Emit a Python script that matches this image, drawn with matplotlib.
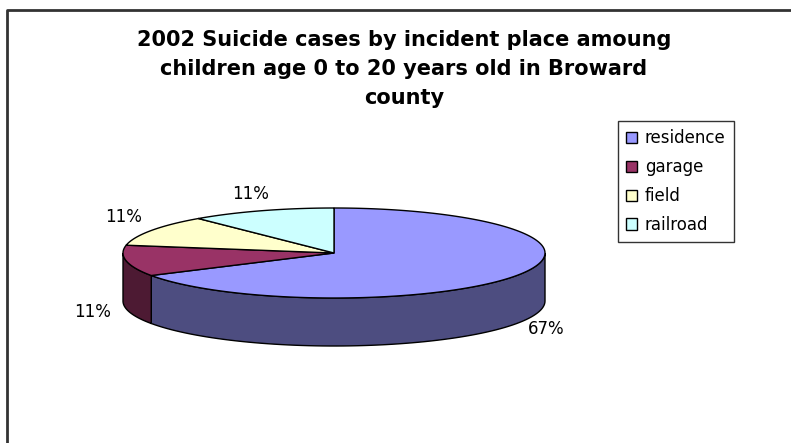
import numpy as np
import matplotlib
matplotlib.use("Agg")
import matplotlib.pyplot as plt
from matplotlib.patches import Polygon, Patch

# ---- data ----
categories = ["residence", "garage", "field", "railroad"]
counts = [6, 1, 1, 1]
pct_labels = ["67%", "11%", "11%", "11%"]
top_colors = ["#9999FF", "#993366", "#FFFFCC", "#CCFFFF"]
side_colors = ["#4D4D80", "#4D1A33", "#808066", "#668080"]
title = "2002 Suicide cases by incident place amoung\nchildren age 0 to 20 years old in Broward\ncounty"

# ---- layout (pixel space) ----
W, H = 791, 443
fig = plt.figure(figsize=(W / 100, H / 100), dpi=100)
ax = fig.add_axes([0, 0, 1, 1])
ax.set_xlim(0, W)
ax.set_ylim(H, 0)
ax.axis("off")

# frame (only top and left visible)
ax.plot([7, 7, W + 5], [H + 5, 10, 10], color="#333333", lw=2,
        solid_capstyle="butt", clip_on=False)

cx, cy, a, b, depth = 334, 253, 211, 45, 48

def pt(theta_deg, r=1.0, dy=0.0):
    t = np.radians(theta_deg)
    return cx + r * a * np.cos(t), cy - r * b * np.sin(t) + dy

total = float(sum(counts))
start = 90.0
angles = []
for c in counts:
    sweep = 360.0 * c / total
    angles.append((start - sweep, start))  # clockwise
    start -= sweep

# side walls (front half: 180..360 degrees)
for (t1, t2), sc in zip(angles, side_colors):
    for shift in (-360, 0, 360):
        lo, hi = max(t1 + shift, 180), min(t2 + shift, 360)
        if hi > lo:
            ts = np.linspace(lo, hi, 80)
            top = [pt(t) for t in ts]
            bot = [pt(t, dy=depth) for t in ts[::-1]]
            ax.add_patch(Polygon(top + bot, closed=True, facecolor=sc,
                                 edgecolor="black", lw=1.0, zorder=2))

# top faces
for (t1, t2), fc in zip(angles, top_colors):
    ts = np.linspace(t1, t2, 200)
    verts = [(cx, cy)] + [pt(t) for t in ts]
    ax.add_patch(Polygon(verts, closed=True, facecolor=fc,
                         edgecolor="black", lw=1.0, zorder=3))

# percentage labels
for (t1, t2), lab in zip(angles, pct_labels):
    mid = (t1 + t2) / 2.0
    front = np.sin(np.radians(mid)) < 0
    r = 1.16 if front else 1.15
    x, y = pt(mid, r=r, dy=(depth + 2 if front else -10))
    ax.text(x, y, lab, ha="center", va="center", fontsize=12,
            color="black", zorder=5)

# title
ax.text(404, 69, title, ha="center", va="center", fontsize=15,
        fontweight="bold", linespacing=1.55, color="black")

# legend
handles = [Patch(facecolor=c, edgecolor="black", lw=1.0) for c in top_colors]
leg = fig.legend(handles, categories, loc="upper left",
                 bbox_to_anchor=(618 / W, 1 - 121 / H),
                 fontsize=12, frameon=True, fancybox=False,
                 handlelength=0.65, handleheight=0.65, handletextpad=0.45,
                 labelspacing=0.65, borderpad=0.5, borderaxespad=0)
leg.get_frame().set_edgecolor("black")
leg.get_frame().set_linewidth(1.0)

fig.savefig("out.png", dpi=100)
